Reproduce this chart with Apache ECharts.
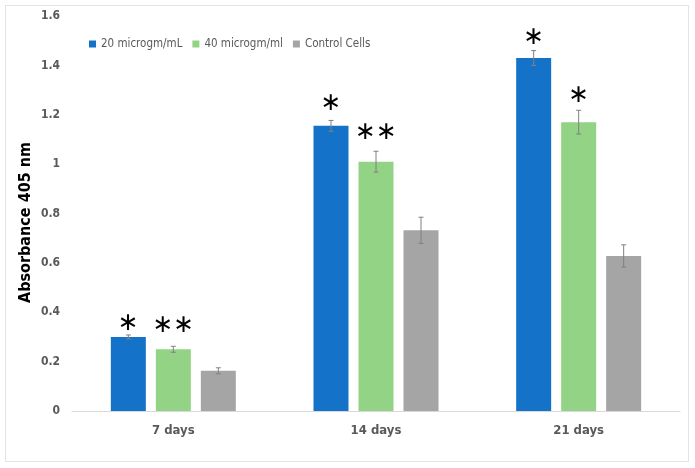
<!DOCTYPE html>
<html>
<head>
<meta charset="utf-8">
<script src="https://cdn.jsdelivr.net/npm/echarts@6/dist/echarts.min.js"></script>
<style>
html,body{margin:0;padding:0;background:#fff;}
#frame{position:absolute;left:5px;top:5px;width:684px;height:457px;border:1px solid #e3e3e3;box-sizing:border-box;}
#c{position:absolute;left:0;top:0;width:695px;height:468px;}
</style>
</head>
<body>
<div id="frame"></div>
<div id="c"></div>
<script>
const categories = ['7 days', '14 days', '21 days'];
const seriesNames = ['20 microgm/mL', '40 microgm/ml', 'Control Cells'];
const v20 = [0.30, 1.155, 1.43];
const v40 = [0.25, 1.01, 1.17];
const vCtrl = [0.163, 0.732, 0.628];
const e20 = [0.008, 0.022, 0.03];
const e40 = [0.012, 0.042, 0.048];
const eCtrl = [0.012, 0.053, 0.045];
const stars20 = ['∗', '∗', '∗'];
const stars40 = ['∗∗', '∗∗', '∗'];
const starsCtrl = ['', '', ''];
// vertical position (in axis units) of the centre of each significance mark
const starY20 = [0.356, 1.247, 1.512];
const starY40 = [0.346, 1.129, 1.277];
const starYCtrl = [0, 0, 0];
const yTicks = { min: 0, max: 1.6, interval: 0.2 };

const colors = ['#1572c9', '#93d386', '#a5a5a5'];
const values = [v20, v40, vCtrl];
const errs = [e20, e40, eCtrl];
const stars = [stars20, stars40, starsCtrl];
const starYs = [starY20, starY40, starYCtrl];
const BAR_W = 35, BAR_GAP = 10;
const font = 'DejaVu Sans Condensed, DejaVu Sans, sans-serif';

const series = [];
values.forEach((vals, si) => {
  series.push({
    name: seriesNames[si],
    type: 'bar',
    data: vals,
    barWidth: BAR_W,
    barGap: (BAR_GAP / BAR_W * 100) + '%',
    itemStyle: { color: colors[si] },
    silent: true
  });
});
values.forEach((vals, si) => {
  series.push({
    type: 'custom',
    silent: true,
    z: 10,
    data: vals.map((v, i) => [i, v, errs[si][i], starYs[si][i]]),
    renderItem: function (params, api) {
      const i = api.value(0), v = api.value(1), e = api.value(2), sy = api.value(3);
      const label = stars[si][params.dataIndex];
      const dx = (si - 1) * (BAR_W + BAR_GAP);
      const top = api.coord([i, v + e]);
      const bot = api.coord([i, v - e]);
      const x = top[0] + dx;
      const cw = 2.5;
      const st = { stroke: '#808080', lineWidth: 1 };
      const children = [
        { type: 'line', shape: { x1: x, y1: top[1], x2: x, y2: bot[1] }, style: st },
        { type: 'line', shape: { x1: x - cw, y1: top[1], x2: x + cw, y2: top[1] }, style: st },
        { type: 'line', shape: { x1: x - cw, y1: bot[1], x2: x + cw, y2: bot[1] }, style: st }
      ];
      if (label) {
        const p = api.coord([i, sy]);
        children.push({
          type: 'text',
          style: {
            text: label, x: x, y: p[1],
            align: 'center', verticalAlign: 'middle',
            fontSize: 25, fontFamily: 'DejaVu Sans, sans-serif', fill: '#000'
          }
        });
      }
      return { type: 'group', children: children };
    }
  });
});

const chart = echarts.init(document.getElementById('c'), null, { renderer: 'canvas' });
chart.setOption({
  animation: false,
  backgroundColor: 'transparent',
  grid: { left: 72, right: 15, top: 16, bottom: 57, containLabel: false },
  legend: {
    data: seriesNames,
    left: 84, top: 33,
    icon: 'rect', itemWidth: 7, itemHeight: 7, itemGap: 10,
    textStyle: { color: '#595959', fontSize: 11.5, fontFamily: font }
  },
  xAxis: {
    type: 'category',
    data: categories,
    axisLine: { lineStyle: { color: '#d9d9d9', width: 1 } },
    axisTick: { show: false },
    axisLabel: { color: '#595959', fontSize: 13, fontWeight: 'bold', fontFamily: font, margin: 13 }
  },
  yAxis: {
    type: 'value',
    min: yTicks.min, max: yTicks.max, interval: yTicks.interval,
    name: 'Absorbance 405 nm',
    nameLocation: 'middle',
    nameGap: 38,
    nameMoveOverlap: false,
    nameTextStyle: { color: '#000', fontSize: 16, fontWeight: 'bold', fontFamily: font, padding: [0, 18, 0, 0] },
    axisLine: { show: false },
    axisTick: { show: false },
    splitLine: { show: false },
    axisLabel: { color: '#595959', fontSize: 12, fontWeight: 'bold', fontFamily: font, margin: 12 }
  },
  series: series
});
</script>
</body>
</html>
